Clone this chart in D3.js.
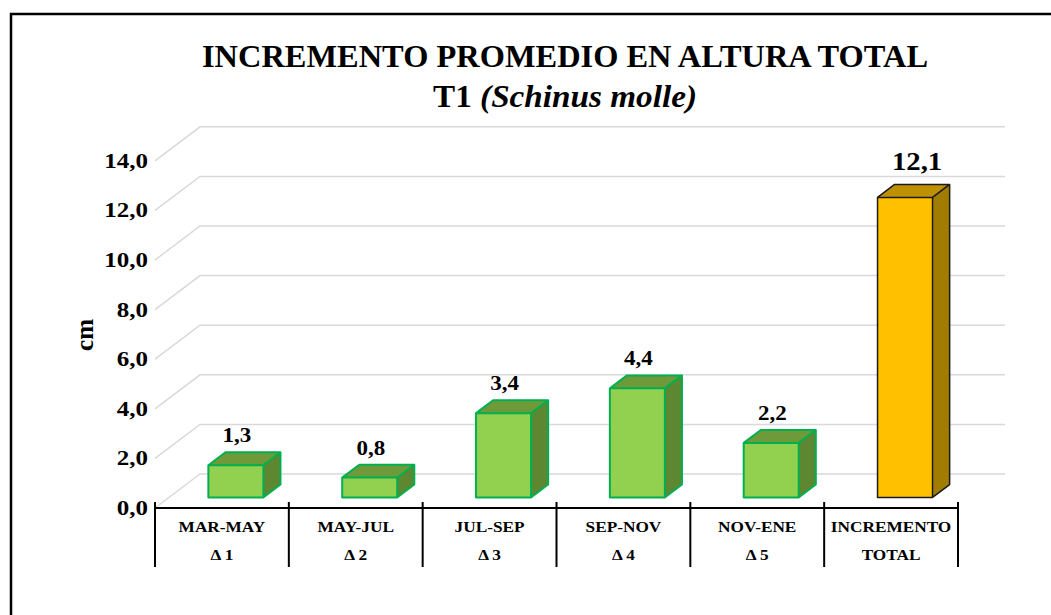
<!DOCTYPE html>
<html>
<head>
<meta charset="utf-8">
<script src="https://cdn.jsdelivr.net/npm/d3@7"></script>
<style>
  body { margin: 0; background: #fff; }
  svg { display: block; font-family: "Liberation Serif", "Times New Roman", serif; }
</style>
</head>
<body>
<svg id="chart" width="1051" height="615"></svg>
<script>
// chart data
const periods = ['MAR-MAY', 'MAY-JUL', 'JUL-SEP', 'SEP-NOV', 'NOV-ENE', 'INCREMENTO'];
const periodSub = ['\u0394 1', '\u0394 2', '\u0394 3', '\u0394 4', '\u0394 5', 'TOTAL'];
const increments = [1.3, 0.8, 3.4, 4.4, 2.2, 12.1];
const yTicks = [0, 2, 4, 6, 8, 10, 12, 14];

const svg = d3.select('#chart');
const SERIF = '"Liberation Serif", "Times New Roman", serif';

// depth of the 3d box (oblique offset) and where the bars sit inside it
const DX = 45, DY = -34;
const depthFront = 0.31, depthBack = 0.69;
const barW = 55;

const x = d3.scaleBand().domain(periods).range([155, 958]);
const y = d3.scaleLinear().domain([0, 14]).range([508, 160.8]);

const fmt = v => d3.format('.1f')(v).replace('.', ',');

// the source text looks horizontally stretched, widen glyphs a bit
function stretch(sel, k) {
    sel.each(function() {
        const w = this.getComputedTextLength();
        d3.select(this)
            .attr('textLength', w * k)
            .attr('lengthAdjust', 'spacingAndGlyphs');
    });
}

// outer frame
svg.append('rect')
    .attr('x', 11).attr('y', 14)
    .attr('width', 1100).attr('height', 700)
    .attr('fill', 'none')
    .attr('stroke', '#000')
    .attr('stroke-width', 2.5);

// title
svg.append('text')
    .attr('x', 565).attr('y', 67)
    .attr('text-anchor', 'middle')
    .attr('font-family', SERIF)
    .attr('font-size', 32)
    .attr('font-weight', 'bold')
    .attr('textLength', 726)
    .attr('lengthAdjust', 'spacingAndGlyphs')
    .text('INCREMENTO PROMEDIO EN ALTURA TOTAL');

const sub = svg.append('text')
    .attr('x', 565).attr('y', 107)
    .attr('text-anchor', 'middle')
    .attr('font-family', SERIF)
    .attr('font-size', 31)
    .attr('font-weight', 'bold')
    .attr('textLength', 264)
    .attr('lengthAdjust', 'spacingAndGlyphs');
sub.append('tspan').text('T1 ');
sub.append('tspan').attr('font-style', 'italic').text('(Schinus molle)');

// gridlines: side wall diagonal + back wall horizontal
svg.append('g')
    .selectAll('path')
    .data(yTicks)
    .enter()
    .append('path')
    .attr('d', v => `M155,${y(v)}L${155 + DX},${y(v) + DY}L1005,${y(v) + DY}`)
    .attr('fill', 'none')
    .attr('stroke', '#d9d9d9')
    .attr('stroke-width', 1.5);

// y axis
const yAxis = svg.append('g')
    .attr('transform', 'translate(155,0)')
    .call(d3.axisLeft(y).tickValues(yTicks).tickSize(0).tickPadding(7).tickFormat(fmt));
yAxis.select('.domain').remove();
yAxis.selectAll('text')
    .attr('font-family', SERIF)
    .attr('font-size', 20)
    .attr('font-weight', 'bold')
    .attr('fill', '#000')
    .call(stretch, 1.25);

svg.append('text')
    .attr('transform', 'translate(93,335) rotate(-90)')
    .attr('text-anchor', 'middle')
    .attr('font-family', SERIF)
    .attr('font-size', 25)
    .attr('font-weight', 'bold')
    .text('cm');

// bars
const ox1 = DX * depthFront, oy1 = DY * depthFront;
const ox2 = DX * depthBack, oy2 = DY * depthBack;
const isTotal = (_, i) => i === increments.length - 1;

const bars = svg.append('g')
    .selectAll('g.bar')
    .data(increments)
    .enter()
    .append('g')
    .attr('class', 'bar');

const left = (d, i) => x(periods[i]) + (x.bandwidth() - barW) / 2;

bars.append('path')
    .attr('d', (d, i) => {
        const l = left(d, i), r = l + barW, t = y(d);
        return `M${l + ox1},${t + oy1}L${r + ox1},${t + oy1}L${r + ox2},${t + oy2}L${l + ox2},${t + oy2}Z`;
    })
    .attr('fill', (d, i) => isTotal(d, i) ? '#bf9000' : '#6e9a3a');

bars.append('path')
    .attr('d', (d, i) => {
        const r = left(d, i) + barW, t = y(d), b = y(0);
        return `M${r + ox1},${t + oy1}L${r + ox2},${t + oy2}L${r + ox2},${b + oy2}L${r + ox1},${b + oy1}Z`;
    })
    .attr('fill', (d, i) => isTotal(d, i) ? '#a07c00' : '#5e8732');

bars.append('rect')
    .attr('x', (d, i) => left(d, i) + ox1)
    .attr('y', d => y(d) + oy1)
    .attr('width', barW)
    .attr('height', d => y(0) - y(d))
    .attr('fill', (d, i) => isTotal(d, i) ? '#ffc000' : '#92d050');

// outlines of the boxes
bars.append('path')
    .attr('d', (d, i) => {
        const l = left(d, i), r = l + barW, t = y(d), b = y(0);
        return `M${l + ox1},${b + oy1}L${l + ox1},${t + oy1}L${l + ox2},${t + oy2}L${r + ox2},${t + oy2}` +
            `L${r + ox2},${b + oy2}L${r + ox1},${b + oy1}Z` +
            `M${l + ox1},${t + oy1}L${r + ox1},${t + oy1}L${r + ox2},${t + oy2}M${r + ox1},${t + oy1}L${r + ox1},${b + oy1}`;
    })
    .attr('fill', 'none')
    .attr('stroke', (d, i) => isTotal(d, i) ? '#1a1a1a' : '#00b050')
    .attr('stroke-width', (d, i) => isTotal(d, i) ? 1.5 : 2)
    .attr('stroke-linejoin', 'round');

// value labels
bars.append('text')
    .attr('x', (d, i) => x(periods[i]) + x.bandwidth() / 2 + (isTotal(d, i) ? 26 : 15))
    .attr('y', d => y(d) + oy2 - (d > 10 ? 14 : 10))
    .attr('text-anchor', 'middle')
    .attr('font-family', SERIF)
    .attr('font-size', d => d > 10 ? 25 : 20)
    .attr('font-weight', 'bold')
    .text(fmt)
    .call(stretch, 1.15);

// category axis with table-like separators
const cat = svg.append('g');
cat.append('line')
    .attr('x1', x.range()[0]).attr('x2', x.range()[1])
    .attr('y1', y(0)).attr('y2', y(0))
    .attr('stroke', '#000').attr('stroke-width', 2);

cat.selectAll('line.sep')
    .data(periods.map(p => x(p)).concat([x.range()[1]]))
    .enter()
    .append('line')
    .attr('class', 'sep')
    .attr('x1', d => d).attr('x2', d => d)
    .attr('y1', y(0) - 6).attr('y2', 567)
    .attr('stroke', '#000').attr('stroke-width', 2);

cat.selectAll('text.l1')
    .data(periods)
    .enter()
    .append('text')
    .attr('class', 'l1')
    .attr('x', d => x(d) + x.bandwidth() / 2)
    .attr('y', 532)
    .attr('text-anchor', 'middle')
    .attr('font-family', SERIF)
    .attr('font-size', 15)
    .attr('font-weight', 'bold')
    .text(d => d)
    .call(stretch, 1.15);

cat.selectAll('text.l2')
    .data(periodSub)
    .enter()
    .append('text')
    .attr('class', 'l2')
    .attr('x', (d, i) => x(periods[i]) + x.bandwidth() / 2)
    .attr('y', 560)
    .attr('text-anchor', 'middle')
    .attr('font-family', SERIF)
    .attr('font-size', 15)
    .attr('font-weight', 'bold')
    .text(d => d)
    .call(stretch, 1.15);
</script>
</body>
</html>
